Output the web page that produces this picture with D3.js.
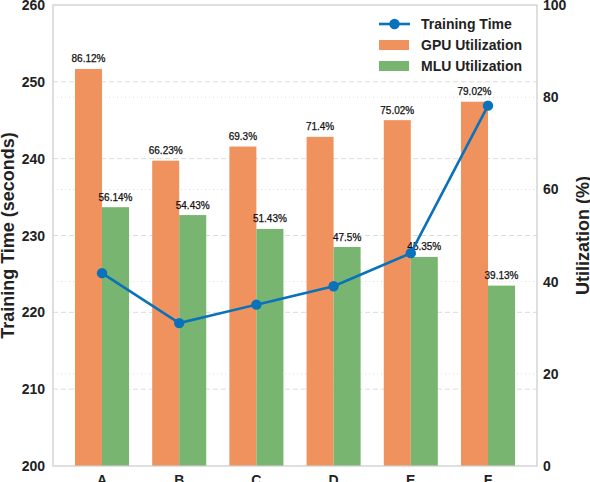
<!DOCTYPE html>
<html>
<head>
<meta charset="utf-8">
<script src="https://cdn.jsdelivr.net/npm/d3@7"></script>
<style>
  body { margin: 0; background: #fff; }
  svg { display: block; font-family: "Liberation Sans", Arial, sans-serif; }
</style>
</head>
<body>
<svg id="chart" width="590" height="482"></svg>
<script>
const categories = ["A", "B", "C", "D", "E", "F"];
const trainingTime = [225.1, 218.6, 221.0, 223.4, 227.7, 246.9];
const gpuUtil = [86.12, 66.23, 69.3, 71.4, 75.02, 79.02];
const mluUtil = [56.14, 54.43, 51.43, 47.5, 45.35, 39.13];
const leftTicks = [200, 210, 220, 230, 240, 250, 260];
const rightTicks = [0, 20, 40, 60, 80, 100];

const colors = { line: "#0A72BA", gpu: "#F0925E", mlu: "#77B570" };
const barW = 0.35;

const svg = d3.select("#chart");
const margin = { left: 53, right: 537, top: 5, bottom: 466 };

// index scale like matplotlib's auto margins
const x = d3.scaleLinear().domain([-0.635, 5.635]).range([margin.left, margin.right]);
const yL = d3.scaleLinear().domain([200, 260]).range([margin.bottom, margin.top]);
const yR = d3.scaleLinear().domain([0, 100]).range([margin.bottom, margin.top]);

// grid lines
svg.append("g").selectAll("line")
  .data(leftTicks.slice(1, -1))
  .join("line")
  .attr("x1", margin.left).attr("x2", margin.right)
  .attr("y1", d => yL(d)).attr("y2", d => yL(d))
  .attr("stroke", "#dcdcdc").attr("stroke-width", 1)
  .attr("stroke-dasharray", "5,3");

svg.append("g").selectAll("line")
  .data(rightTicks.slice(1, -1))
  .join("line")
  .attr("x1", margin.left).attr("x2", margin.right)
  .attr("y1", d => yR(d)).attr("y2", d => yR(d))
  .attr("stroke", "#dcdcdc").attr("stroke-width", 1)
  .attr("stroke-dasharray", "1,3");

// bars
const bars = svg.append("g");
bars.selectAll(".gpu")
  .data(gpuUtil)
  .join("rect")
  .attr("class", "gpu")
  .attr("x", (d, i) => x(i - barW))
  .attr("width", (d, i) => x(i) - x(i - barW))
  .attr("y", d => yR(d))
  .attr("height", d => yR(0) - yR(d))
  .attr("fill", colors.gpu);

bars.selectAll(".mlu")
  .data(mluUtil)
  .join("rect")
  .attr("class", "mlu")
  .attr("x", (d, i) => x(i))
  .attr("width", (d, i) => x(i + barW) - x(i))
  .attr("y", d => yR(d))
  .attr("height", d => yR(0) - yR(d))
  .attr("fill", colors.mlu);

// bar value labels
const addLabels = (data, offset) => {
  svg.append("g").selectAll("text")
    .data(data)
    .join("text")
    .attr("x", (d, i) => x(i + offset))
    .attr("y", d => yR(d) - 6.5)
    .attr("text-anchor", "middle")
    .attr("font-size", 10)
    .attr("fill", "#111")
    .attr("stroke", "#111").attr("stroke-width", 0.25)
    .text(d => d + "%");
};
addLabels(gpuUtil, -barW / 2);
addLabels(mluUtil, barW / 2);

// frame
svg.append("rect")
  .attr("x", margin.left).attr("y", margin.top)
  .attr("width", margin.right - margin.left)
  .attr("height", margin.bottom - margin.top)
  .attr("fill", "none").attr("stroke", "#cccccc").attr("stroke-width", 1.25);

// training time line
const line = d3.line()
  .x((d, i) => x(i))
  .y(d => yL(d));

svg.append("path")
  .datum(trainingTime)
  .attr("d", line)
  .attr("fill", "none")
  .attr("stroke", colors.line)
  .attr("stroke-width", 2.6);

svg.append("g").selectAll("circle")
  .data(trainingTime)
  .join("circle")
  .attr("cx", (d, i) => x(i))
  .attr("cy", d => yL(d))
  .attr("r", 5.2)
  .attr("fill", colors.line);

// axes labels
svg.append("g").selectAll("text")
  .data(leftTicks)
  .join("text")
  .attr("x", 45).attr("y", d => yL(d) + 5)
  .attr("text-anchor", "end")
  .attr("font-size", 14).attr("font-weight", "bold")
  .attr("fill", "#222")
  .text(d => d);

svg.append("g").selectAll("text")
  .data(rightTicks)
  .join("text")
  .attr("x", 543).attr("y", d => yR(d) + 5)
  .attr("text-anchor", "start")
  .attr("font-size", 14).attr("font-weight", "bold")
  .attr("fill", "#222")
  .text(d => d);

svg.append("g").selectAll("text")
  .data(categories)
  .join("text")
  .attr("x", (d, i) => x(i)).attr("y", 485)
  .attr("text-anchor", "middle")
  .attr("font-size", 14).attr("font-weight", "bold")
  .attr("fill", "#222")
  .text(d => d);

svg.append("text")
  .attr("transform", `translate(14,${(margin.top + margin.bottom) / 2}) rotate(-90)`)
  .attr("text-anchor", "middle")
  .attr("font-size", 18).attr("font-weight", "bold")
  .attr("fill", "#222")
  .text("Training Time (seconds)");

svg.append("text")
  .attr("transform", `translate(589,${(margin.top + margin.bottom) / 2}) rotate(-90)`)
  .attr("text-anchor", "middle")
  .attr("font-size", 18).attr("font-weight", "bold")
  .attr("fill", "#222")
  .text("Utilization (%)");

// legend
const legend = svg.append("g");
legend.append("line")
  .attr("x1", 379).attr("x2", 410).attr("y1", 24).attr("y2", 24)
  .attr("stroke", colors.line).attr("stroke-width", 2.6);
legend.append("circle")
  .attr("cx", 394.5).attr("cy", 24).attr("r", 5.2).attr("fill", colors.line);
legend.append("rect")
  .attr("x", 379).attr("y", 40).attr("width", 30).attr("height", 10).attr("fill", colors.gpu);
legend.append("rect")
  .attr("x", 379).attr("y", 61).attr("width", 30).attr("height", 10).attr("fill", colors.mlu);

const legendItems = ["Training Time", "GPU Utilization", "MLU Utilization"];
legend.selectAll("text")
  .data(legendItems)
  .join("text")
  .attr("x", 421).attr("y", (d, i) => 29 + i * 21)
  .attr("font-size", 14).attr("font-weight", "bold")
  .attr("fill", "#222")
  .text(d => d);
</script>
</body>
</html>
